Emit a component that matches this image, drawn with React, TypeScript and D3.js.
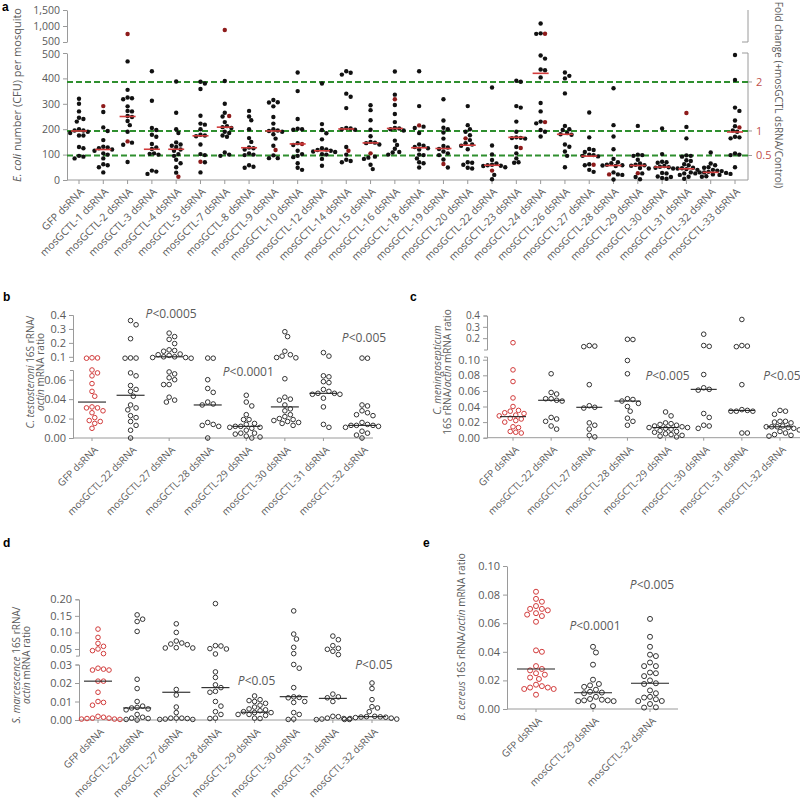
import React, { useEffect, useRef } from "react";
import * as d3 from "d3";

const FONT = "'Open Sans', 'Liberation Sans', Arial, sans-serif";
const AXIS = "#9a9a9a";
const TXT = "#5a5a5a";
const RED = "#d23c3c";
const DARKRED = "#8e1b1b";
const GREEN = "#2f8f2f";

// ---------- panel a : E. coli CFU per mosquito ----------
const catsA = [
  "GFP dsRNA", "mosGCTL-1 dsRNA", "mosGCTL-2 dsRNA", "mosGCTL-3 dsRNA", "mosGCTL-4 dsRNA",
  "mosGCTL-5 dsRNA", "mosGCTL-7 dsRNA", "mosGCTL-8 dsRNA", "mosGCTL-9 dsRNA", "mosGCTL-10 dsRNA",
  "mosGCTL-12 dsRNA", "mosGCTL-14 dsRNA", "mosGCTL-15 dsRNA", "mosGCTL-16 dsRNA", "mosGCTL-18 dsRNA",
  "mosGCTL-19 dsRNA", "mosGCTL-20 dsRNA", "mosGCTL-22 dsRNA", "mosGCTL-23 dsRNA", "mosGCTL-24 dsRNA",
  "mosGCTL-26 dsRNA", "mosGCTL-27 dsRNA", "mosGCTL-28 dsRNA", "mosGCTL-29 dsRNA", "mosGCTL-30 dsRNA",
  "mosGCTL-31 dsRNA", "mosGCTL-32 dsRNA", "mosGCTL-33 dsRNA",
];
const blackA: number[][] = [
  [320, 300, 270, 245, 240, 230, 200, 195, 195, 190, 185, 175, 175, 130, 125, 95, 92, 85],
  [268, 207, 193, 157, 131, 128, 125, 120, 115, 105, 100, 85, 62, 58, 50, 30],
  [467, 355, 325, 322, 318, 290, 272, 270, 252, 248, 232, 216, 190, 147, 139, 71],
  [428, 312, 205, 197, 178, 170, 142, 128, 122, 105, 103, 100, 37, 33, 24],
  [388, 265, 200, 185, 148, 140, 135, 130, 120, 115, 102, 95, 80, 66, 50, 29],
  [387, 380, 358, 253, 222, 218, 200, 178, 175, 172, 140, 102, 98, 70, 30],
  [390, 300, 265, 250, 228, 212, 208, 205, 190, 185, 175, 170, 108, 100, 95],
  [272, 250, 235, 200, 165, 150, 128, 125, 120, 105, 100, 98, 58, 52, 48],
  [315, 306, 305, 290, 248, 222, 200, 195, 193, 190, 180, 163, 135, 97, 86, 86],
  [423, 350, 240, 202, 200, 198, 145, 138, 115, 102, 95, 90, 66, 48, 40],
  [380, 220, 197, 184, 160, 125, 120, 118, 115, 112, 110, 102, 100, 83, 56],
  [428, 422, 415, 340, 328, 283, 205, 203, 200, 198, 130, 100, 80, 75, 70],
  [294, 275, 235, 198, 172, 150, 147, 145, 140, 92, 88, 83, 60, 43],
  [427, 336, 295, 260, 228, 205, 203, 200, 195, 155, 138, 123, 110, 108, 100],
  [428, 291, 210, 205, 185, 140, 135, 130, 125, 120, 100, 98, 85, 70, 66, 49],
  [318, 234, 206, 200, 187, 163, 134, 128, 122, 112, 105, 98, 81, 49],
  [291, 216, 200, 190, 176, 157, 145, 140, 135, 121, 70, 68, 60, 48, 45],
  [364, 136, 101, 79, 65, 60, 58, 56, 55, 50, 20, 3],
  [391, 387, 291, 285, 230, 190, 168, 166, 165, 163, 130, 105, 85, 70, 68],
  [1080, 770, 755, 490, 478, 435, 432, 404, 303, 270, 230, 223, 197, 190, 171],
  [423, 410, 400, 341, 213, 200, 197, 185, 180, 178, 140, 131, 112, 95, 50],
  [266, 168, 122, 118, 110, 100, 98, 95, 93, 62, 58, 40, 32],
  [361, 216, 171, 121, 83, 70, 66, 60, 58, 57, 55, 30, 22, 20, 2],
  [213, 100, 98, 95, 80, 65, 60, 58, 56, 47, 45, 26, 12, 3],
  [203, 102, 72, 70, 68, 55, 52, 50, 48, 45, 28, 26, 14, 12, 8, 5],
  [209, 164, 97, 95, 92, 78, 75, 62, 58, 48, 46, 45, 43, 40, 30, 26, 20, 13, 5],
  [108, 65, 58, 50, 48, 40, 37, 35, 32, 30, 30, 28, 26, 24, 22, 20, 15, 13],
  [492, 394, 285, 272, 234, 212, 195, 190, 170, 168, 164, 105, 100, 98, 50],
];
const redA: number[][] = [
  [], [291], [750, 152], [], [13], [72], [875, 252], [], [118], [142], [], [115], [105], [318],
  [215], [63], [164], [37], [126], [760, 228], [], [60], [22], [27], [], [264], [], [207],
];
const medianA = [193, 120, 250, 121, 121, 174, 208, 127, 193, 142, 115, 201, 146, 203, 127, 124, 137, 58, 168, 420, 180, 94, 57, 57, 51, 44, 30, 189];
const foldLevels = [2, 1, 0.5];
const foldLabels = ["2", "1", "0.5"];
const ticksALow = [0, 100, 200, 300, 400, 500];
const ticksAHigh = [500, 1000, 1500];

// ---------- panels b–e : 16S rRNA / actin mRNA ratios ----------
const catsBCD = [
  "GFP dsRNA", "mosGCTL-22 dsRNA", "mosGCTL-27 dsRNA", "mosGCTL-28 dsRNA",
  "mosGCTL-29 dsRNA", "mosGCTL-30 dsRNA", "mosGCTL-31 dsRNA", "mosGCTL-32 dsRNA",
];
const catsE = ["GFP dsRNA", "mosGCTL-29 dsRNA", "mosGCTL-32 dsRNA"];

const valuesB: number[][] = [
  [0.092, 0.090, 0.093, 0.070, 0.067, 0.064, 0.056, 0.048, 0.043, 0.032, 0.031, 0.031, 0.028, 0.026, 0.021, 0.018, 0.017, 0.015, 0.010],
  [0.36, 0.33, 0.23, 0.092, 0.09, 0.091, 0.067, 0.064, 0.054, 0.050, 0.048, 0.043, 0.034, 0.031, 0.029, 0.023, 0.021, 0.017, 0.013, 0.008, 0.0],
  [0.27, 0.245, 0.225, 0.195, 0.15, 0.145, 0.14, 0.12, 0.115, 0.11, 0.10, 0.10, 0.095, 0.095, 0.09, 0.068, 0.066, 0.062, 0.060, 0.055, 0.055, 0.042, 0.039, 0.037],
  [0.09, 0.091, 0.060, 0.051, 0.047, 0.037, 0.035, 0.034, 0.016, 0.014, 0.013, 0.012, 0.0],
  [0.044, 0.037, 0.033, 0.024, 0.019, 0.019, 0.015, 0.014, 0.012, 0.012, 0.011, 0.011, 0.010, 0.008, 0.005, 0.005, 0.004, 0.002, 0.001, 0.0],
  [0.28, 0.245, 0.14, 0.115, 0.105, 0.095, 0.093, 0.061, 0.042, 0.040, 0.039, 0.034, 0.030, 0.028, 0.024, 0.022, 0.020, 0.019, 0.018, 0.017, 0.016, 0.015, 0.013],
  [0.13, 0.105, 0.064, 0.063, 0.058, 0.057, 0.050, 0.048, 0.046, 0.046, 0.045, 0.045, 0.041, 0.032, 0.014, 0.011],
  [0.09, 0.091, 0.034, 0.033, 0.028, 0.026, 0.024, 0.023, 0.016, 0.014, 0.013, 0.013, 0.013, 0.012, 0.011, 0.007, 0.005, 0.003, 0.0],
];
const medianB = [0.037, 0.044, 0.100, 0.034, 0.012, 0.032, 0.046, 0.013];

const valuesC: number[][] = [
  [0.16, 0.087, 0.072, 0.051, 0.040, 0.035, 0.034, 0.032, 0.031, 0.029, 0.028, 0.025, 0.024, 0.022, 0.020, 0.014, 0.013, 0.008, 0.007, 0.006],
  [0.082, 0.058, 0.056, 0.050, 0.050, 0.048, 0.047, 0.026, 0.024, 0.021, 0.015, 0.011],
  [0.135, 0.13, 0.125, 0.068, 0.041, 0.039, 0.038, 0.019, 0.016, 0.011, 0.003, 0.001],
  [0.19, 0.188, 0.099, 0.082, 0.050, 0.049, 0.047, 0.044, 0.040, 0.034, 0.025, 0.021, 0.016],
  [0.033, 0.028, 0.019, 0.018, 0.017, 0.016, 0.015, 0.014, 0.013, 0.013, 0.012, 0.011, 0.009, 0.008, 0.007, 0.005, 0.004, 0.003, 0.002, 0.001],
  [0.235, 0.135, 0.128, 0.081, 0.064, 0.062, 0.061, 0.031, 0.026, 0.016, 0.015, 0.012],
  [0.365, 0.135, 0.13, 0.125, 0.068, 0.036, 0.035, 0.034, 0.034, 0.034, 0.006, 0.006],
  [0.035, 0.034, 0.030, 0.021, 0.021, 0.020, 0.019, 0.015, 0.014, 0.014, 0.014, 0.013, 0.012, 0.010, 0.008, 0.006, 0.004, 0.003, 0.002],
];
const medianC = [0.027, 0.048, 0.039, 0.047, 0.013, 0.062, 0.035, 0.014];

const valuesD: number[][] = [
  [0.11, 0.085, 0.067, 0.058, 0.050, 0.045, 0.036, 0.0275, 0.027, 0.027, 0.028, 0.021, 0.021, 0.015, 0.010, 0.0095, 0.008, 0.0015, 0.001, 0.0008, 0.0005, 0.0003, 0.0005, 0.001, 0.002],
  [0.153, 0.14, 0.133, 0.103, 0.022, 0.017, 0.010, 0.0075, 0.0068, 0.0065, 0.006, 0.0055, 0.003, 0.0015, 0.001, 0.0008, 0.0003, 0.0],
  [0.126, 0.10, 0.074, 0.068, 0.065, 0.063, 0.054, 0.053, 0.053, 0.0165, 0.0135, 0.007, 0.004, 0.001, 0.001, 0.0008, 0.0005, 0.0003, 0.0003, 0.001],
  [0.187, 0.06, 0.059, 0.051, 0.050, 0.035, 0.026, 0.023, 0.019, 0.0175, 0.015, 0.0155, 0.010, 0.0075, 0.0045, 0.003, 0.001, 0.0008],
  [0.013, 0.011, 0.0105, 0.01, 0.009, 0.008, 0.007, 0.006, 0.0055, 0.005, 0.0045, 0.004, 0.004, 0.003, 0.003, 0.0025, 0.001, 0.0008],
  [0.165, 0.095, 0.08, 0.055, 0.036, 0.030, 0.028, 0.0175, 0.0125, 0.012, 0.0122, 0.010, 0.0095, 0.004, 0.003, 0.0005, 0.0003],
  [0.089, 0.078, 0.06, 0.052, 0.049, 0.043, 0.033, 0.014, 0.0125, 0.012, 0.010, 0.002, 0.0018, 0.001, 0.0008, 0.0005, 0.0003, 0.0002],
  [0.020, 0.017, 0.011, 0.0072, 0.0065, 0.0045, 0.002, 0.0018, 0.0017, 0.0016, 0.0015, 0.0013, 0.001, 0.0008, 0.0005, 0.0003],
];
const medianD = [0.021, 0.0065, 0.015, 0.0175, 0.0042, 0.0126, 0.0117, 0.0018];

const valuesE: number[][] = [
  [0.082, 0.077, 0.075, 0.072, 0.070, 0.070, 0.069, 0.067, 0.066, 0.065, 0.061, 0.041, 0.040, 0.030, 0.028, 0.027, 0.025, 0.024, 0.022, 0.021, 0.017, 0.016, 0.015, 0.015, 0.014, 0.014, 0.010],
  [0.0435, 0.0395, 0.031, 0.0205, 0.0175, 0.0165, 0.0155, 0.0135, 0.012, 0.0115, 0.011, 0.0085, 0.007, 0.0065, 0.006, 0.006, 0.0055, 0.0055, 0.002],
  [0.063, 0.0505, 0.0435, 0.038, 0.037, 0.0325, 0.030, 0.030, 0.0255, 0.025, 0.023, 0.020, 0.018, 0.0175, 0.013, 0.011, 0.0085, 0.008, 0.0068, 0.0056, 0.0055, 0.0035, 0.0012, 0.001],
];
const medianE = [0.028, 0.0114, 0.018];

// deterministic beeswarm offsets (layout only)
function swarm(ys: number[], d: number): number[] {
  const order = ys.map((_, i) => i).sort((a, b) => ys[a] - ys[b]);
  const placed: [number, number][] = [];
  const out = ys.map(() => 0);
  order.forEach((i) => {
    const y = ys[i];
    for (let k = 0; k < 80; k++) {
      const off = (k % 2 === 1 ? 1 : -1) * Math.ceil(k / 2) * d * 0.5;
      if (placed.every(([px, py]) => (px - off) ** 2 + (py - y) ** 2 >= d * d * 0.97)) {
        out[i] = off;
        placed.push([off, y]);
        return;
      }
    }
  });
  return out;
}

function styleAxis(g: any, fs: number) {
  g.attr("font-family", FONT).attr("font-size", fs);
  g.select(".domain").attr("stroke", AXIS);
  g.selectAll(".tick line").attr("stroke", AXIS);
  g.selectAll(".tick text").attr("fill", TXT);
}

function drawPanelA(svg: any) {
  const g = svg.append("g");
  const x = d3.scalePoint<string>().domain(catsA).range([79, 735]);
  const yLow = d3.scaleLinear().domain([0, 500]).range([180, 53]);
  const yHigh = d3.scaleLinear().domain([500, 1500]).range([42, 10]);
  const yOf = (v: number) => (v > 500 ? yHigh(v) : yLow(v));
  const axisX = 67;
  const rightX = 748;

  g.append("text").attr("x", 2).attr("y", 11).attr("font-family", "'Liberation Sans', Arial")
    .attr("font-weight", "bold").attr("font-size", 12).text("a");

  // left axis (broken)
  const lo = g.append("g").attr("transform", `translate(${axisX},0)`)
    .call(d3.axisLeft(yLow).tickValues(ticksALow).tickFormat(d3.format(",")).tickSize(4).tickSizeOuter(0));
  styleAxis(lo, 10.5);
  lo.selectAll(".tick text").filter((d: number) => d === 500).attr("dy", "0.45em");
  const hi = g.append("g").attr("transform", `translate(${axisX},0)`)
    .call(d3.axisLeft(yHigh).tickValues(ticksAHigh).tickFormat(d3.format(",")).tickSize(4).tickSizeOuter(0));
  styleAxis(hi, 10.5);
  hi.selectAll(".tick text").filter((d: number) => d === 500).attr("dy", "0.2em");

  // right axis (fold change)
  const control = medianA[0];
  g.append("line").attr("x1", rightX).attr("x2", rightX).attr("y1", yLow(0)).attr("y2", yLow(500)).attr("stroke", AXIS);
  g.append("line").attr("x1", rightX).attr("x2", rightX).attr("y1", yHigh(500)).attr("y2", yHigh(1500)).attr("stroke", AXIS);
  [yLow(500), yHigh(500)].forEach((yy) =>
    g.append("line").attr("x1", rightX - 6).attr("x2", rightX).attr("y1", yy).attr("y2", yy).attr("stroke", AXIS));

  // bottom axis
  g.append("line").attr("x1", axisX).attr("x2", rightX).attr("y1", yLow(0)).attr("y2", yLow(0)).attr("stroke", AXIS);

  // fold-change reference lines
  foldLevels.forEach((f, i) => {
    const yy = yLow(control * f);
    g.append("line").attr("x1", axisX).attr("x2", rightX).attr("y1", yy).attr("y2", yy)
      .attr("stroke", GREEN).attr("stroke-width", 2).attr("stroke-dasharray", "6,3");
    g.append("line").attr("x1", rightX).attr("x2", rightX + 4).attr("y1", yy).attr("y2", yy).attr("stroke", AXIS);
    g.append("text").attr("x", rightX + 8).attr("y", yy).attr("dy", "0.35em").attr("font-family", FONT)
      .attr("font-size", 11).attr("fill", "#c0504d").text(foldLabels[i]);
  });

  catsA.forEach((c, i) => {
    const cx = x(c) as number;
    g.append("line").attr("x1", cx).attr("x2", cx).attr("y1", yLow(0)).attr("y2", yLow(0) + 4).attr("stroke", AXIS);
    g.append("text").attr("transform", `translate(${cx + 3},${yLow(0) + 10}) rotate(-45)`)
      .attr("text-anchor", "end").attr("dy", "0.35em").attr("font-family", FONT).attr("font-size", 10.5)
      .attr("fill", TXT).text(c);
    const pts = blackA[i].map((v) => ({ v, red: false })).concat(redA[i].map((v) => ({ v, red: true })));
    const ys = pts.map((p) => yOf(p.v));
    const offs = swarm(ys, 4.4);
    pts.forEach((p, j) => {
      g.append("circle").attr("cx", cx + offs[j]).attr("cy", ys[j]).attr("r", 2.2)
        .attr("fill", p.red ? DARKRED : "#111");
    });
    const my = yOf(medianA[i]);
    g.append("line").attr("x1", cx - 8).attr("x2", cx + 8).attr("y1", my).attr("y2", my)
      .attr("stroke", RED).attr("stroke-width", 1.6);
  });

  // axis titles
  const yl = g.append("text").attr("transform", "translate(21,95) rotate(-90)").attr("text-anchor", "middle")
    .attr("font-family", FONT).attr("font-size", 11).attr("fill", TXT);
  yl.append("tspan").attr("font-style", "italic").text("E. coli");
  yl.append("tspan").text(" number (CFU) per mosquito");
  g.append("text").attr("transform", "translate(775,95) rotate(90)").attr("text-anchor", "middle")
    .attr("font-family", FONT).attr("font-size", 10).attr("fill", TXT)
    .text("Fold change (+mosGCTL dsRNA/Control)");
}

type Seg = { domain: [number, number]; range: [number, number]; ticks: number[]; fmt: string; fs: number };
type Spec = {
  letter: string; lx: number; ly: number;
  cats: string[]; values: number[][]; medians: number[];
  axisX: number; xEnd: number; xRange: [number, number];
  low: Seg; high?: Seg;
  pLabels: { cat: number; text: string; y: number }[];
  yLabel: { x: number; y: number; parts: [string, boolean][] }[];
  r: number; medW: number;
};

const specs: Spec[] = [
  {
    letter: "b", lx: 3, ly: 301, cats: catsBCD, values: valuesB, medians: medianB,
    axisX: 73, xEnd: 373, xRange: [92, 362],
    low: { domain: [0, 0.07], range: [438, 370], ticks: [0, 0.02, 0.04, 0.06], fmt: ".2f", fs: 11 },
    high: { domain: [0.07, 0.4], range: [361, 315], ticks: [0.1, 0.2, 0.3, 0.4], fmt: ".1f", fs: 11 },
    pLabels: [{ cat: 2, text: "<0.0005", y: 318 }, { cat: 4, text: "<0.0001", y: 376 }, { cat: 7, text: "<0.005", y: 342 }],
    yLabel: [
      { x: 34, y: 372, parts: [["C. testosteroni", true], [" 16S rRNA/", false]] },
      { x: 44, y: 372, parts: [["actin", true], [" mRNA ratio", false]] },
    ],
    r: 2.3, medW: 28,
  },
  {
    letter: "c", lx: 410, ly: 301, cats: catsBCD, values: valuesC, medians: medianC,
    axisX: 487, xEnd: 800, xRange: [513, 780],
    low: { domain: [0, 0.104], range: [437.7, 356.6], ticks: [0, 0.02, 0.04, 0.06, 0.08, 0.1], fmt: ".2f", fs: 11 },
    high: { domain: [0.1, 0.4], range: [349.5, 315.5], ticks: [0.2, 0.3, 0.4], fmt: ".1f", fs: 10 },
    pLabels: [{ cat: 4, text: "<0.005", y: 380 }, { cat: 7, text: "<0.05", y: 380 }],
    yLabel: [
      { x: 441, y: 370, parts: [["C. meningosepticum", true]] },
      { x: 451, y: 372, parts: [["16S rRNA/", false], ["actin", true], [" mRNA ratio", false]] },
    ],
    r: 2.3, medW: 26,
  },
  {
    letter: "d", lx: 3, ly: 547, cats: catsBCD, values: valuesD, medians: medianD,
    axisX: 79, xEnd: 393, xRange: [98, 372],
    low: { domain: [0, 0.03], range: [720, 664.5], ticks: [0, 0.01, 0.02, 0.03], fmt: ".2f", fs: 11 },
    high: { domain: [0.03, 0.2], range: [655.6, 599.3], ticks: [0.05, 0.1, 0.15, 0.2], fmt: ".2f", fs: 11 },
    pLabels: [{ cat: 4, text: "<0.05", y: 685 }, { cat: 7, text: "<0.05", y: 669 }],
    yLabel: [
      { x: 20, y: 665, parts: [["S. marcescence", true], [" 16S rRNA/", false]] },
      { x: 30, y: 665, parts: [["actin", true], [" mRNA ratio", false]] },
    ],
    r: 2.3, medW: 28,
  },
  {
    letter: "e", lx: 423, ly: 547, cats: catsE, values: valuesE, medians: medianE,
    axisX: 507, xEnd: 678, xRange: [536, 650],
    low: { domain: [0, 0.1], range: [709, 566], ticks: [0, 0.02, 0.04, 0.06, 0.08, 0.1], fmt: ".2f", fs: 11 },
    pLabels: [{ cat: 1, text: "<0.0001", y: 630 }, { cat: 2, text: "<0.005", y: 589 }],
    yLabel: [
      { x: 465, y: 637, parts: [["B. cereus", true], [" 16S rRNA/", false], ["actin", true], [" mRNA ratio", false]] },
    ],
    r: 2.5, medW: 38,
  },
];

function drawPanel(svg: any, s: Spec) {
  const g = svg.append("g");
  const x = d3.scalePoint<string>().domain(s.cats).range(s.xRange);
  const low = d3.scaleLinear().domain(s.low.domain).range(s.low.range);
  const high = s.high ? d3.scaleLinear().domain(s.high.domain).range(s.high.range) : null;
  const yOf = (v: number) => (high && v > s.low.domain[1] ? high(v) : low(v));
  const y0 = s.low.range[0];

  g.append("text").attr("x", s.lx).attr("y", s.ly).attr("font-family", "'Liberation Sans', Arial")
    .attr("font-weight", "bold").attr("font-size", 12).text(s.letter);

  const al = g.append("g").attr("transform", `translate(${s.axisX},0)`)
    .call(d3.axisLeft(low).tickValues(s.low.ticks).tickFormat(d3.format(s.low.fmt)).tickSize(4).tickSizeOuter(high ? 3 : 0));
  styleAxis(al, s.low.fs);
  if (high && s.high) {
    const ah = g.append("g").attr("transform", `translate(${s.axisX},0)`)
      .call(d3.axisLeft(high).tickValues(s.high.ticks).tickFormat(d3.format(s.high.fmt)).tickSize(4).tickSizeOuter(3));
    styleAxis(ah, s.high.fs);
  }
  g.append("line").attr("x1", s.axisX).attr("x2", s.xEnd).attr("y1", y0).attr("y2", y0).attr("stroke", AXIS);

  s.cats.forEach((c, i) => {
    const cx = x(c) as number;
    g.append("line").attr("x1", cx).attr("x2", cx).attr("y1", y0).attr("y2", y0 + 3).attr("stroke", AXIS);
    g.append("text").attr("transform", `translate(${cx + 4},${y0 + 10}) rotate(-45)`)
      .attr("text-anchor", "end").attr("dy", "0.35em").attr("font-family", FONT).attr("font-size", 10)
      .attr("fill", TXT).text(c);
    const vals = s.values[i];
    const ys = vals.map(yOf);
    const offs = swarm(ys, s.r * 2 + 0.9);
    vals.forEach((v, j) => {
      g.append("circle").attr("cx", cx + offs[j]).attr("cy", ys[j]).attr("r", s.r)
        .attr("fill", "none").attr("stroke", i === 0 ? RED : "#333").attr("stroke-width", 1);
    });
    const my = yOf(s.medians[i]);
    g.append("line").attr("x1", cx - s.medW / 2).attr("x2", cx + s.medW / 2).attr("y1", my).attr("y2", my)
      .attr("stroke", "#222").attr("stroke-width", 1.1);
  });

  s.pLabels.forEach((p) => {
    const t = g.append("text").attr("x", (x(s.cats[p.cat]) as number) + 2).attr("y", p.y)
      .attr("text-anchor", "middle").attr("font-family", FONT).attr("font-size", 12).attr("fill", TXT);
    t.append("tspan").attr("font-style", "italic").text("P");
    t.append("tspan").text(p.text);
  });

  s.yLabel.forEach((l) => {
    const t = g.append("text").attr("transform", `translate(${l.x},${l.y}) rotate(-90)`)
      .attr("text-anchor", "middle").attr("font-family", FONT).attr("font-size", 10).attr("fill", TXT);
    l.parts.forEach(([txt, it]) => t.append("tspan").attr("font-style", it ? "italic" : "normal").text(txt));
  });
}

const App = () => {
  const ref = useRef<SVGSVGElement>(null);
  useEffect(() => {
    const svg = d3.select(ref.current);
    svg.selectAll("*").remove();
    drawPanelA(svg);
    specs.forEach((s) => drawPanel(svg, s));
  }, []);
  return (
    <svg ref={ref} width={800} height={799}
      style={{ position: "absolute", left: 0, top: 0, background: "#fff" }} />
  );
};

export default App;
